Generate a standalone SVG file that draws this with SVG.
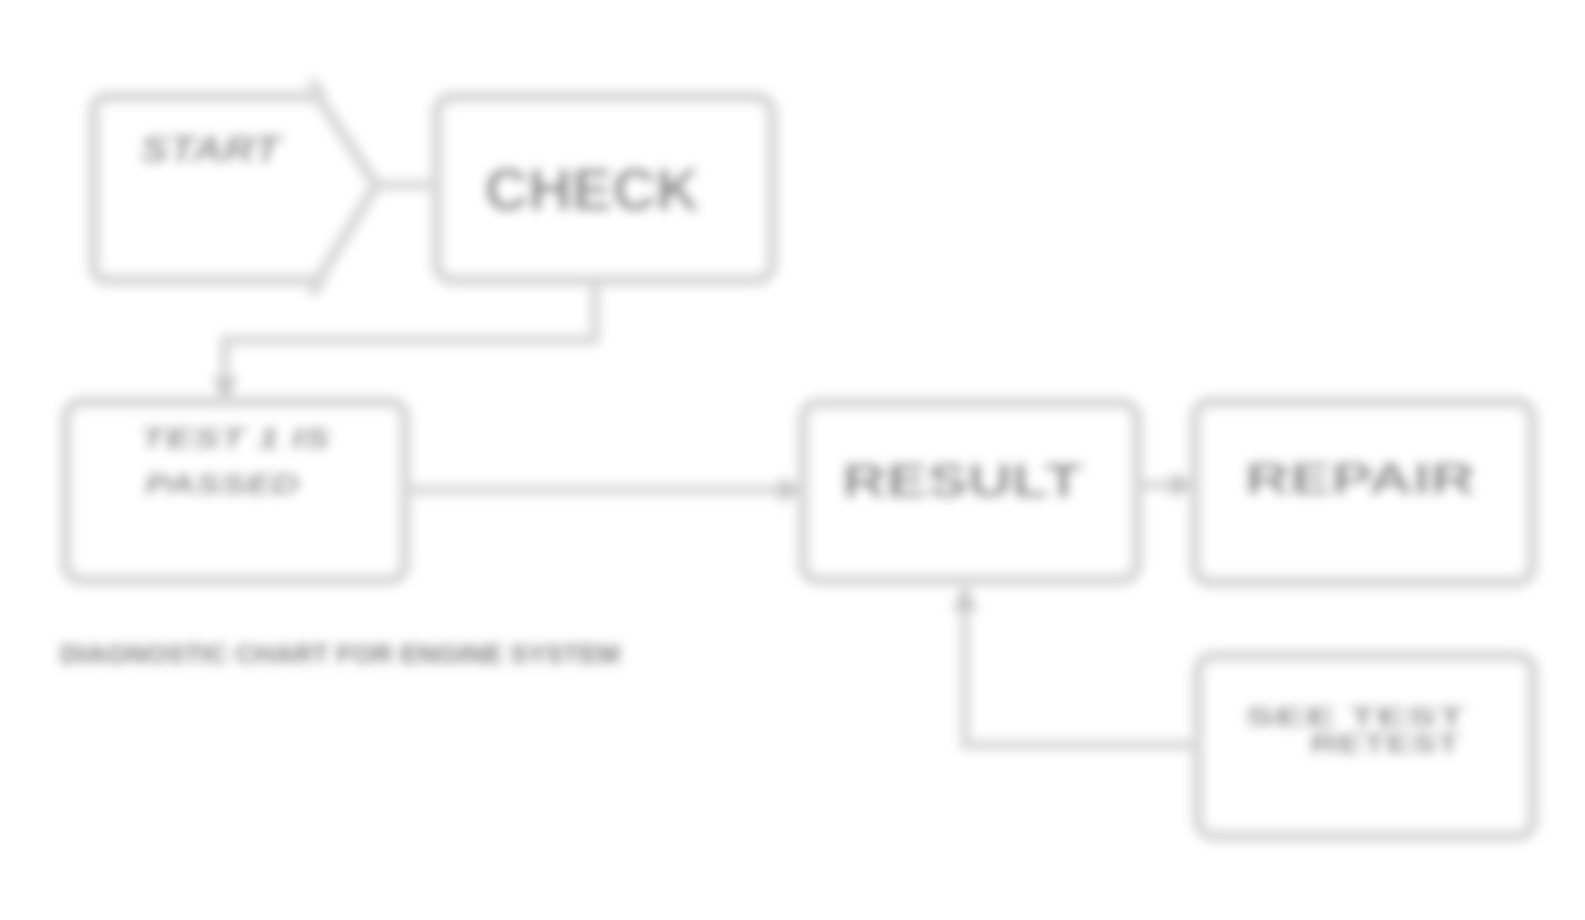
<svg xmlns="http://www.w3.org/2000/svg" width="1585" height="920" viewBox="0 0 1585 920">
<defs>
<filter id="soft" x="-5%" y="-5%" width="110%" height="110%"><feGaussianBlur stdDeviation="5.5"/></filter>
<marker id="arr" viewBox="0 0 10 10" refX="8" refY="5" markerWidth="2.6" markerHeight="2.6" orient="auto-start-reverse"><path d="M0,0 L10,5 L0,10 z" fill="#c8c8c8"/></marker>
</defs>
<style>
.box{fill:#ffffff;stroke:#d8d8d8;stroke-width:12}
.ln{fill:none;stroke:#d8d8d8;stroke-width:10}
.t{font-family:"Liberation Sans",Arial,sans-serif;font-weight:bold;fill:#808080;text-anchor:middle}
</style>
<rect width="1585" height="920" fill="#ffffff"/>
<g filter="url(#soft)">
<g id="connectors">
<path class="ln" d="M378,185 H435"/>
<path class="ln" d="M595,282 V340 H225 V398" marker-end="url(#arr)"/>
<path class="ln" d="M407,490 H800" marker-end="url(#arr)"/>
<path class="ln" d="M1139,485 H1192" marker-end="url(#arr)"/>
<path class="ln" d="M1195,745 H965 V590" marker-end="url(#arr)"/>
</g>
<g id="n1">
<path class="box" d="M108,97 H318 L376,185 L318,280 H108 Q94,280 94,266 V111 Q94,97 108,97 Z"/>
<path class="ln" d="M310,80 L324,97 M310,294 L324,280"/>
<text class="t" x="210" y="162" font-size="36" font-style="italic" textLength="140" lengthAdjust="spacingAndGlyphs">START</text>
</g>
<g id="n2">
<rect class="box" x="437" y="97" width="335" height="183" rx="16"/>
<text class="t" x="592" y="210" font-size="60" textLength="215" lengthAdjust="spacingAndGlyphs">CHECK</text>
</g>
<g id="n3">
<rect class="box" x="66" y="402" width="339" height="178" rx="16"/>
<text class="t" x="235" y="448" font-size="30" font-style="italic" textLength="190" lengthAdjust="spacingAndGlyphs">TEST 1 IS</text>
<text class="t" x="222" y="494" font-size="30" font-style="italic" textLength="155" lengthAdjust="spacingAndGlyphs">PASSED</text>
</g>
<g id="n4">
<rect class="box" x="803" y="403" width="334" height="177" rx="16"/>
<text class="t" x="962" y="497" font-size="48" textLength="240" lengthAdjust="spacingAndGlyphs">RESULT</text>
</g>
<g id="n5">
<rect class="box" x="1195" y="402" width="337" height="180" rx="16"/>
<text class="t" x="1360" y="494" font-size="44" textLength="230" lengthAdjust="spacingAndGlyphs">REPAIR</text>
</g>
<g id="n6">
<rect class="box" x="1198" y="656" width="335" height="180" rx="16"/>
<text class="t" x="1355" y="726" font-size="28" textLength="220" lengthAdjust="spacingAndGlyphs">SEE TEST</text>
<text class="t" x="1385" y="753" font-size="28" textLength="150" lengthAdjust="spacingAndGlyphs">RETEST</text>
</g>
<text class="t" x="340" y="663" font-size="26" textLength="560" lengthAdjust="spacingAndGlyphs">DIAGNOSTIC CHART FOR ENGINE SYSTEM</text>
</g>
</svg>
